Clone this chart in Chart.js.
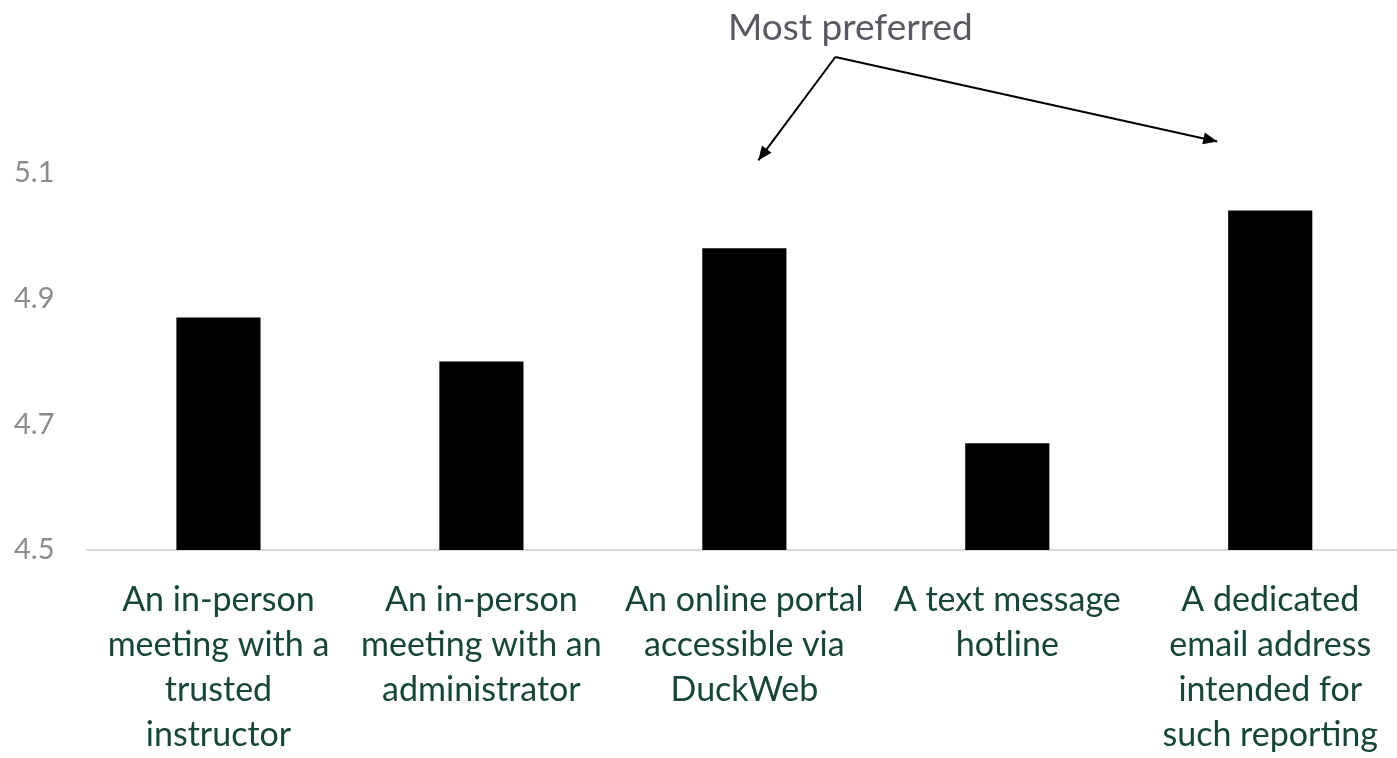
<!DOCTYPE html>
<html>
<head>
<meta charset="utf-8">
<script src="https://cdn.jsdelivr.net/npm/chart.js@4"></script>
<style>
  html, body { margin: 0; padding: 0; background: #ffffff; overflow: hidden; }
  #wrap { width: 1397px; height: 758px; position: relative; overflow: hidden; }
</style>
</head>
<body>
<div id="wrap"><canvas id="mainChart" width="1406" height="758"></canvas></div>
<script>
// Chart data
const categories = [
    ['An in-person', 'meeting with a', 'trusted', 'instructor'],
    ['An in-person', 'meeting with an', 'administrator'],
    ['An online portal', 'accessible via', 'DuckWeb'],
    ['A text message', 'hotline'],
    ['A dedicated', 'email address', 'intended for', 'such reporting']
];
const meanScores = [4.87, 4.80, 4.98, 4.67, 5.04];
const yTicks = [4.5, 4.7, 4.9, 5.1];
const annotationText = 'Most preferred';
const highlighted = [2, 4];

const FONT = 'Lato, "Open Sans", sans-serif';

// Draws the "Most preferred" callout with two arrows
const calloutPlugin = {
    id: 'callout',
    afterDraw(chart) {
        const ctx = chart.ctx;
        const x = chart.scales.x;
        const y = chart.scales.y;
        const apexX = x.getPixelForValue(highlighted[0]) + 91;
        const apexY = 57;

        ctx.save();
        ctx.fillStyle = '#595961';
        ctx.font = '37px ' + FONT;
        ctx.textAlign = 'center';
        ctx.textBaseline = 'alphabetic';
        ctx.fillText(annotationText, apexX + 15, 40);

        const tips = [
            { x: x.getPixelForValue(highlighted[0]) + 14, y: y.getPixelForValue(5.12) },
            { x: x.getPixelForValue(highlighted[1]) - 53, y: y.getPixelForValue(5.15) }
        ];
        ctx.strokeStyle = '#000';
        ctx.fillStyle = '#000';
        ctx.lineWidth = 2;
        tips.forEach(t => {
            ctx.beginPath();
            ctx.moveTo(apexX, apexY);
            ctx.lineTo(t.x, t.y);
            ctx.stroke();
            const ang = Math.atan2(t.y - apexY, t.x - apexX);
            const len = 14, half = 6;
            ctx.beginPath();
            ctx.moveTo(t.x, t.y);
            ctx.lineTo(t.x - len * Math.cos(ang) + half * Math.sin(ang), t.y - len * Math.sin(ang) - half * Math.cos(ang));
            ctx.lineTo(t.x - len * Math.cos(ang) - half * Math.sin(ang), t.y - len * Math.sin(ang) + half * Math.cos(ang));
            ctx.closePath();
            ctx.fill();
        });
        ctx.restore();
    }
};

const ctx = document.getElementById('mainChart').getContext('2d');
new Chart(ctx, {
    type: 'bar',
    data: {
        labels: categories,
        datasets: [{
            label: 'Mean score',
            data: meanScores,
            backgroundColor: '#000000',
            barPercentage: 0.32,
            categoryPercentage: 1.0
        }]
    },
    options: {
        responsive: false,
        animation: false,
        layout: { padding: { top: 110, right: 0, bottom: 0, left: 14 } },
        plugins: {
            legend: { display: false },
            tooltip: { enabled: false }
        },
        scales: {
            x: {
                grid: { display: false, drawTicks: false },
                border: { display: true, color: '#d9d9d9', width: 2 },
                afterFit(axis) {
                    axis.height = 208;
                },
                ticks: {
                    color: '#154734',
                    font: { family: FONT, size: 34, lineHeight: '45px' },
                    padding: 28,
                    autoSkip: false,
                    maxRotation: 0,
                    minRotation: 0
                }
            },
            y: {
                min: 4.5,
                max: 5.2,
                grid: { display: false, drawTicks: false },
                border: { display: false },
                afterBuildTicks(axis) {
                    axis.ticks = yTicks.map(v => ({ value: v }));
                },
                afterFit(axis) {
                    axis.width = 73;
                },
                ticks: {
                    color: '#8b8b90',
                    font: { family: FONT, size: 29 },
                    crossAlign: 'far',
                    padding: 0,
                    callback: v => v.toFixed(1)
                }
            }
        }
    },
    plugins: [calloutPlugin]
});
</script>
</body>
</html>
